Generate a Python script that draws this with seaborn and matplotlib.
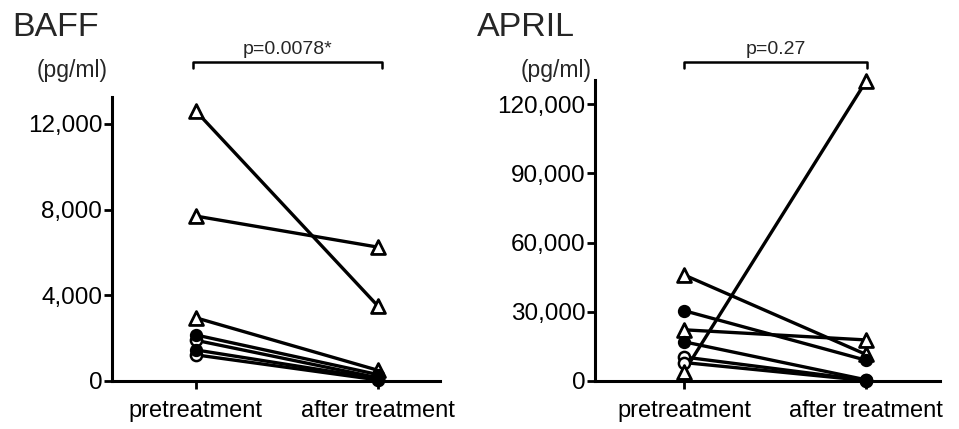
import matplotlib
matplotlib.use("Agg")
import matplotlib.pyplot as plt
import seaborn as sns
import pandas as pd

sns.set_theme(style="white")
plt.rcParams['font.family'] = ['Liberation Sans', 'DejaVu Sans']

categories = ["pretreatment", "after treatment"]

# BAFF (pg/ml)
baff_pre = [12600, 7700, 2950, 2150, 1900, 1450, 1220]
baff_post = [3500, 6250, 500, 300, 150, 100, 50]
baff_kind = ["tri", "tri", "tri", "fill", "open", "fill", "open"]

# APRIL (pg/ml)
april_pre = [46000, 30500, 22200, 17000, 10400, 8000, 4000]
april_post = [11500, 9000, 17800, 500, 300, 200, 130000]
april_kind = ["tri", "fill", "tri", "fill", "open", "open", "tri"]

baff_ticks = [0, 4000, 8000, 12000]
april_ticks = [0, 30000, 60000, 90000, 120000]


def make_df(pre, post, kind):
    rows = []
    for i, (a, b, k) in enumerate(zip(pre, post, kind)):
        rows.append(dict(patient=i, pos=0, value=a, kind=k))
        rows.append(dict(patient=i, pos=1, value=b, kind=k))
    return pd.DataFrame(rows)


fig = plt.figure(figsize=(9.59, 4.29), dpi=100)
ax1 = fig.add_axes([0.1168, 0.1119, 0.342, 0.662])
ax2 = fig.add_axes([0.6204, 0.1119, 0.36, 0.7016])

panels = [
    (ax1, make_df(baff_pre, baff_post, baff_kind), baff_ticks, 13260, (-0.461, 1.341)),
    (ax2, make_df(april_pre, april_post, april_kind), april_ticks, 130500, (-0.489, 1.407)),
]

styles = [
    ("open", dict(marker="o", facecolor="white", edgecolor="black", s=65, linewidth=1.8)),
    ("tri", dict(marker="^", facecolor="white", edgecolor="black", s=100, linewidth=2.0)),
    ("fill", dict(marker="o", facecolor="black", edgecolor="black", s=65, linewidth=1.5)),
]

for ax, df, ticks, ytop, xlim in panels:
    sns.lineplot(data=df, x="pos", y="value", units="patient", estimator=None,
                 color="black", linewidth=2.4, ax=ax, legend=False, clip_on=False)
    for z, (k, st) in enumerate(styles):
        sub = df[df["kind"] == k]
        sns.scatterplot(data=sub, x="pos", y="value", ax=ax, legend=False,
                        clip_on=False, zorder=5 + z, **st)
    ax.set_xlim(*xlim)
    ax.set_ylim(0, ytop)
    ax.set_xticks([0, 1])
    ax.set_xticklabels(categories, fontsize=17)
    ax.set_yticks(ticks)
    ax.set_yticklabels([f"{t:,}" for t in ticks], fontsize=17.5)
    ax.set_xlabel("")
    ax.set_ylabel("")
    for side in ["top", "right"]:
        ax.spines[side].set_visible(False)
    for side in ["left", "bottom"]:
        ax.spines[side].set_linewidth(2.2)
        ax.spines[side].set_color("black")
    ax.tick_params(axis="both", direction="out", length=6, width=2, color="black",
                   labelcolor="black", bottom=True, left=True)
    ax.tick_params(axis="y", pad=1)
    ax.tick_params(axis="x", pad=8)

# titles, units, brackets (figure coords)
fig.text(12 / 959, 1 - 28 / 429, "BAFF", fontsize=24.5, va="center", ha="left")
fig.text(477 / 959, 1 - 28 / 429, "APRIL", fontsize=24.5, va="center", ha="left")
fig.text(72 / 959, 1 - 71 / 429, "(pg/ml)", fontsize=16.5, va="center", ha="center")
fig.text(556 / 959, 1 - 71 / 429, "(pg/ml)", fontsize=16.5, va="center", ha="center")

for x0, x1, ptxt in [(193, 382, "p=0.0078*"), (684, 867, "p=0.27")]:
    yb = 1 - 62 / 429
    yt = 1 - 68 / 429
    fig.add_artist(plt.Line2D([x0 / 959, x0 / 959, x1 / 959, x1 / 959], [yt, yb, yb, yt],
                              color="black", linewidth=1.8, transform=fig.transFigure))
    fig.text((x0 + x1) / 2 / 959, 1 - 49 / 429, ptxt, fontsize=14, va="center", ha="center")

fig.savefig("out.png", dpi=100)
